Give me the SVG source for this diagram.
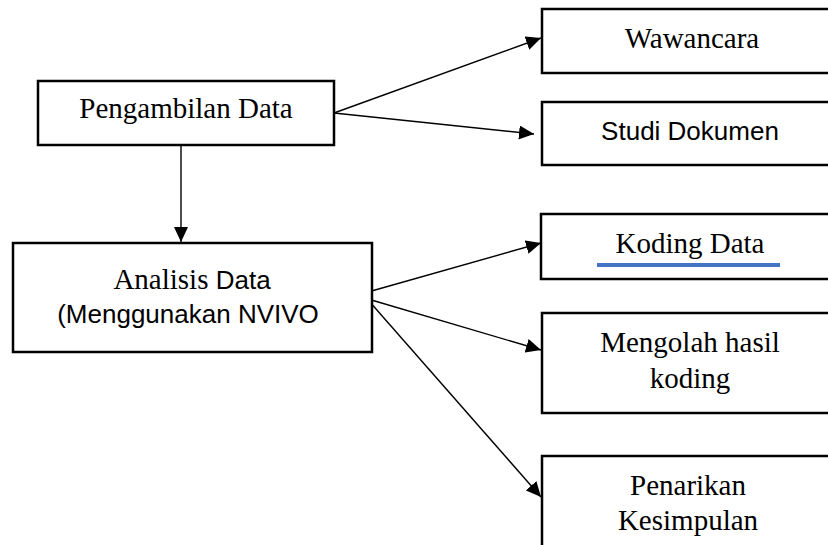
<svg xmlns="http://www.w3.org/2000/svg" width="828" height="545" viewBox="0 0 828 545">
<style>
.box{fill:#fff;stroke:#000;stroke-width:2.5}
.serif{font-family:"Liberation Serif","Times New Roman",serif;font-size:29px;fill:#000}
.sans{font-family:"Liberation Sans",Arial,sans-serif;font-size:26px;fill:#000}
.conn{stroke:#000;stroke-width:1.4;fill:none;marker-end:url(#ah)}
</style>
<defs>
<marker id="ah" markerUnits="userSpaceOnUse" markerWidth="16" markerHeight="14" refX="15" refY="7" orient="auto">
<path d="M0,0 L15,7 L0,14 Z" fill="#000"/>
</marker>
</defs>
<rect width="828" height="545" fill="#fff"/>
<g id="connectors">
<line class="conn" x1="334" y1="113" x2="541" y2="38"/>
<line class="conn" x1="334" y1="113" x2="534" y2="134"/>
<line class="conn" x1="181" y1="145" x2="181" y2="242"/>
<line class="conn" x1="368" y1="292" x2="541" y2="243"/>
<line class="conn" x1="368" y1="299" x2="541" y2="350"/>
<line class="conn" x1="369" y1="301" x2="541" y2="497"/>
</g>
<g id="pengambilan">
<rect class="box" x="38" y="81" width="296" height="64"/>
<text class="serif" x="186" y="118" text-anchor="middle">Pengambilan Data</text>
</g>
<g id="analisis">
<rect class="box" x="13" y="243" width="359" height="109"/>
<text x="192" y="289" text-anchor="middle"><tspan class="serif">Analisis </tspan><tspan class="sans">Data</tspan></text>
<text class="sans" x="188" y="323" text-anchor="middle">(Menggunakan NVIVO</text>
</g>
<g id="wawancara">
<rect class="box" x="542" y="9" width="300" height="64"/>
<text class="serif" x="692" y="48" text-anchor="middle">Wawancara</text>
</g>
<g id="studi">
<rect class="box" x="542" y="102" width="300" height="63"/>
<text class="sans" x="690" y="140" text-anchor="middle">Studi Dokumen</text>
</g>
<g id="koding">
<rect class="box" x="541" y="214" width="300" height="65"/>
<text class="serif" x="690" y="253" text-anchor="middle">Koding Data</text>
<rect x="597" y="263" width="183" height="4" fill="#4472C4"/>
</g>
<g id="mengolah">
<rect class="box" x="542" y="313" width="300" height="100"/>
<text class="serif" x="690" y="352" text-anchor="middle">Mengolah hasil</text>
<text class="serif" x="690" y="388" text-anchor="middle">koding</text>
</g>
<g id="penarikan">
<rect class="box" x="542" y="456" width="300" height="110"/>
<text class="serif" x="688" y="495" text-anchor="middle">Penarikan</text>
<text class="serif" x="688" y="530" text-anchor="middle">Kesimpulan</text>
</g>
</svg>
